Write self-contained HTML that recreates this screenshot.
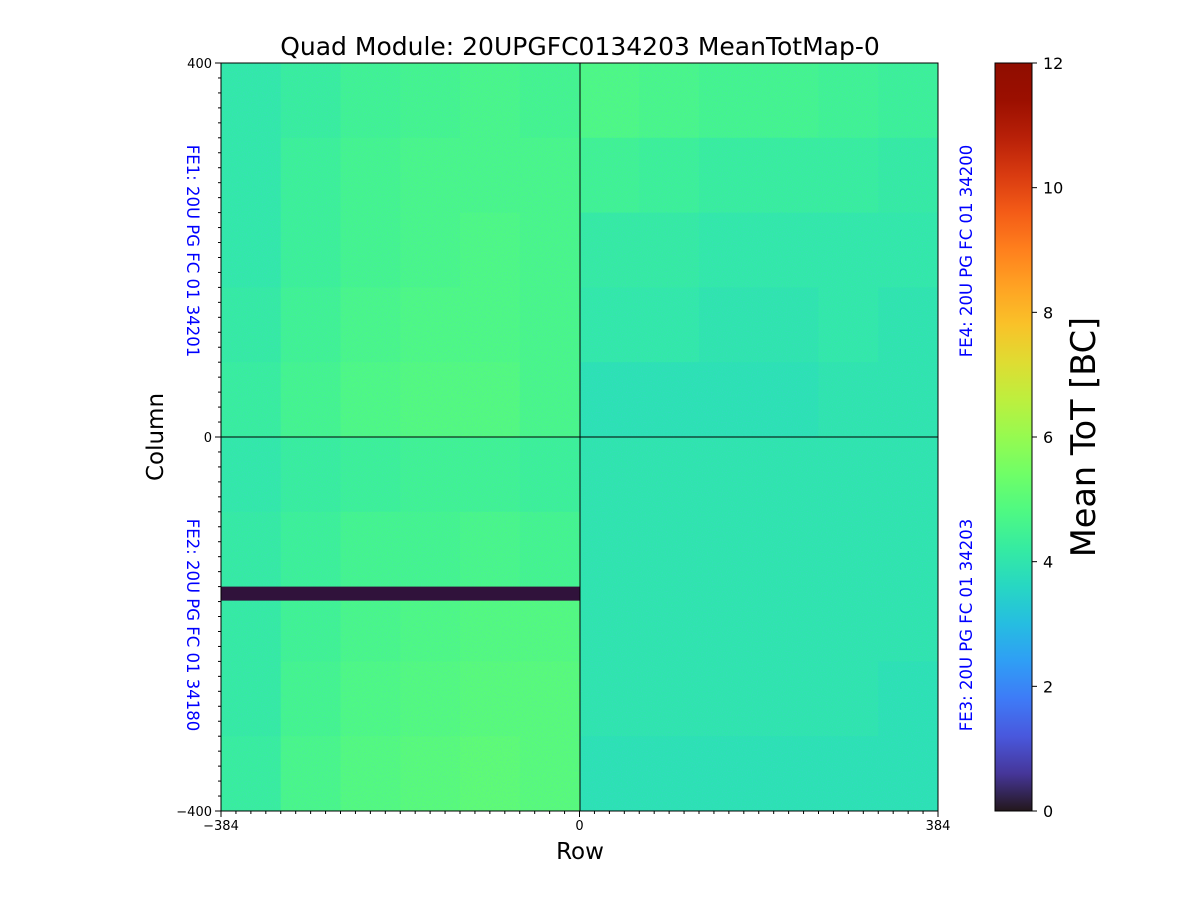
<!DOCTYPE html>
<html><head><meta charset="utf-8"><style>
body{margin:0;background:#fff;}
svg{display:block;font-family:"DejaVu Sans","Liberation Sans",sans-serif;}
</style></head><body>
<svg id="chart" width="1200" height="900" viewBox="0 0 1200 900">
<defs>
<linearGradient id="turbo" x1="0" y1="1" x2="0" y2="0"></linearGradient>
<filter id="grain" x="0" y="0" width="100%" height="100%">
<feTurbulence type="fractalNoise" baseFrequency="0.8" numOctaves="1" seed="3"/>
<feColorMatrix type="matrix" values="0 0 0 0 0.1  0 0 0 0 0.5  0 0 0 0 0.9  0 0 0 1.6 -0.7"/>
</filter>
</defs>
<g id="cells"></g>
<rect x="221" y="63" width="717" height="748" filter="url(#grain)" opacity="0.35"/>
<g id="dead"></g>
<line x1="580" y1="63" x2="580" y2="811" stroke="#000" stroke-width="1"/>
<line x1="221" y1="437" x2="938" y2="437" stroke="#000" stroke-width="1"/>
<rect x="221" y="63" width="717" height="748" fill="none" stroke="#000" stroke-width="1"/>
<g id="axes"></g>
<text x="580" y="55" font-size="25" text-anchor="middle">Quad Module: 20UPGFC0134203 MeanTotMap-0</text>
<text x="580" y="859" font-size="23" text-anchor="middle">Row</text>
<text transform="translate(163,437) rotate(-90)" font-size="23" text-anchor="middle">Column</text>
<text transform="translate(187,251) rotate(90)" font-size="16.5" fill="#0000ff" text-anchor="middle">FE1: 20U PG FC 01 34201</text>
<text transform="translate(187,625) rotate(90)" font-size="16.5" fill="#0000ff" text-anchor="middle">FE2: 20U PG FC 01 34180</text>
<text transform="translate(972,251) rotate(-90)" font-size="16.5" fill="#0000ff" text-anchor="middle">FE4: 20U PG FC 01 34200</text>
<text transform="translate(972,625) rotate(-90)" font-size="16.5" fill="#0000ff" text-anchor="middle">FE3: 20U PG FC 01 34203</text>
<rect x="995" y="63" width="37" height="748" fill="url(#turbo)" stroke="#000" stroke-width="1"/>
<g id="cbticks"></g>
<text transform="translate(1095,437) rotate(-90)" font-size="33.5" text-anchor="middle">Mean ToT [BC]</text>
</svg>
<script>
const xEdges=[-384,-320,-256,-192,-128,-64,0,64,128,192,256,320,384];
const yEdges=[400,320,240,160,80,0,-80,-160,-240,-320,-400];
const meanTot=[
[4.1,4.3,4.5,4.6,4.7,4.6,4.8,4.7,4.6,4.6,4.5,4.4],
[4.1,4.4,4.6,4.7,4.7,4.7,4.5,4.4,4.3,4.3,4.3,4.2],
[4.1,4.4,4.6,4.7,4.8,4.7,4.2,4.2,4.1,4.1,4.1,4.1],
[4.2,4.5,4.7,4.8,4.8,4.7,4.1,4.1,4.0,4.0,4.1,4.0],
[4.3,4.6,4.8,4.9,4.9,4.7,3.9,3.9,3.9,3.9,4.0,4.0],
[4.1,4.3,4.4,4.5,4.5,4.4,4.0,4.0,4.0,4.0,4.0,4.0],
[4.2,4.4,4.6,4.6,4.7,4.6,4.0,4.0,4.0,4.0,4.0,4.0],
[4.2,4.5,4.7,4.8,4.9,4.9,4.0,4.0,4.0,4.0,4.0,4.0],
[4.2,4.6,4.8,4.9,5.0,5.0,4.0,4.0,4.0,4.0,4.0,3.9],
[4.3,4.7,4.9,5.0,5.1,5.0,3.9,3.9,3.9,3.9,3.9,3.9]
];
const deadX=[-384,0];
const deadY=[-160,-175];
const deadVal=[0];
const xTicks=[-384,0,384];
const xTickLabels=["\u2212384","0","384"];
const yTicks=[400,0,-400];
const yTickLabels=["400","0","\u2212400"];
const cbTicks=[0,2,4,6,8,10,12];
const vmin=0,vmax=12;
const NS="http://www.w3.org/2000/svg";
const X=v=>221+(v+384)/768*717;
const Y=v=>63+(400-v)/800*748;
const CY=v=>811-(v-vmin)/(vmax-vmin)*748;
function turbo(t){t=Math.max(0,Math.min(1,t));
const r=0.13572138+t*(4.61539260+t*(-42.66032258+t*(132.13108234+t*(-152.94239396+t*59.28637943))));
const g=0.09140261+t*(2.19418839+t*(4.84296658+t*(-14.18503333+t*(4.27729857+t*2.82956604))));
const b=0.10667330+t*(12.64194608+t*(-60.58204836+t*(110.36276771+t*(-89.90310912+t*27.34824973))));
const c=x=>Math.round(Math.max(0,Math.min(1,x))*255);
return `rgb(${c(r)},${c(g)},${c(b)})`;}
const col=v=>turbo((v-vmin)/(vmax-vmin));
function mk(tag,attrs,parent){const e=document.createElementNS(NS,tag);for(const k in attrs)e.setAttribute(k,attrs[k]);parent.appendChild(e);return e;}
const grad=document.getElementById('turbo');
for(let i=0;i<=20;i++){mk('stop',{offset:(i/20),'stop-color':turbo(i/20)},grad);}
const cells=document.getElementById('cells');
for(let r=0;r<meanTot.length;r++)for(let c=0;c<meanTot[r].length;c++){
const e=mk('rect',{x:X(xEdges[c]),y:Y(yEdges[r]),width:X(xEdges[c+1])-X(xEdges[c])+0.5,height:Y(yEdges[r+1])-Y(yEdges[r])+0.5,fill:col(meanTot[r][c])},cells);

}
const dead=document.getElementById('dead');
const d=mk('rect',{x:X(deadX[0]),y:Y(deadY[0]),width:X(deadX[1])-X(deadX[0]),height:Y(deadY[1])-Y(deadY[0]),fill:'#30123b'},dead);


const ax=document.getElementById('axes');
for(let v=-384;v<=384;v+=16){const big=xTicks.includes(v);mk('line',{x1:X(v),x2:X(v),y1:811,y2:811+(big?6:3),stroke:'#000'},ax);}
for(let v=-400;v<=400;v+=16){const big=yTicks.includes(v);mk('line',{x1:221,x2:221-(big?6:3),y1:Y(v),y2:Y(v),stroke:'#000'},ax);}
mk('line',{x1:221,x2:215,y1:Y(400),y2:Y(400),stroke:'#000'},ax);
xTicks.forEach((v,i)=>{const t=mk('text',{x:X(v),y:830,'font-size':13,'text-anchor':'middle'},ax);t.textContent=xTickLabels[i];

});
yTicks.forEach((v,i)=>{const t=mk('text',{x:212,y:Y(v)+5,'font-size':13,'text-anchor':'end'},ax);t.textContent=yTickLabels[i];

});
const cb=document.getElementById('cbticks');
cbTicks.forEach(v=>{mk('line',{x1:1032,x2:1037,y1:CY(v),y2:CY(v),stroke:'#000'},cb);
const t=mk('text',{x:1043,y:CY(v)+6,'font-size':16},cb);t.textContent=v;

});
</script>
</body></html>
